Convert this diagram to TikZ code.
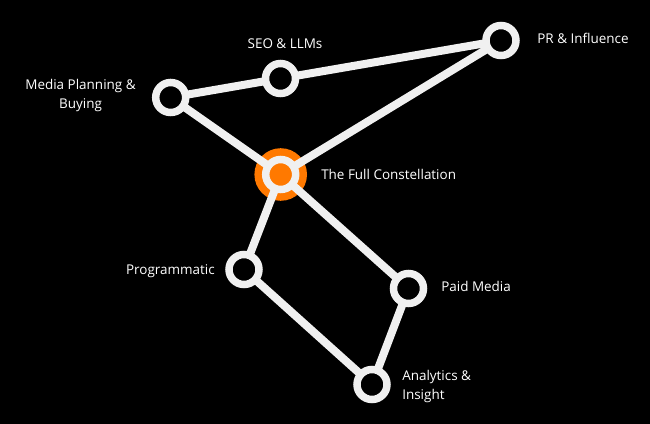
\documentclass[tikz,border=0pt]{standalone}
\usepackage{fontspec}
\setmainfont{Open Sans}
\definecolor{ringc}{HTML}{F0F0F0}
\definecolor{orangec}{HTML}{FF7900}
\tikzset{
  star/.style={circle,draw=ringc,fill=black,line width=7.5*0.75pt,minimum size=30*0.75pt,inner sep=0pt,outer sep=0pt},
  hub/.style={star,fill=orangec,line width=7.5*0.75pt,minimum size=30*0.75pt},
  link/.style={draw=ringc,line width=8*0.75pt},
  lab/.style={text=white,font=\fontsize{10.1pt}{13.9pt}\selectfont,align=center,inner sep=0pt},
}
\begin{document}
\begin{tikzpicture}[x=0.75pt,y=-0.75pt]
\path[use as bounding box,fill=black] (0,0) rectangle (650,424);
\fill[orangec] (280.7,174.5) circle (26.3*0.75pt);
\node[hub] (full) at (280.7,174.5) {};
\node[star] (pr) at (501,40.5) {};
\node[star] (seo) at (280.5,78.5) {};
\node[star] (media) at (170.7,97.5) {};
\node[star] (prog) at (244,269.5) {};
\node[star] (paid) at (408.5,288.5) {};
\node[star] (ana) at (372,384.5) {};
\path[link] (media) -- (seo);
\path[link] (seo) -- (pr);
\path[link] (media) -- (full);
\path[link] (pr) -- (full);
\path[link] (full) -- (prog);
\path[link] (full) -- (paid);
\path[link] (prog) -- (ana);
\path[link] (paid) -- (ana);
\node[lab] (tseo) at (285,43.5) {SEO \& LLMs};
\node[lab] (tpr) at (583,38.5) {PR \& Influence};
\node[lab] (tmedia) at (80.5,95.5) {Media Planning \&\\Buying};
\node[lab,anchor=west] (tfull) at (321,174.5) {The Full Constellation};
\node[lab,anchor=east] (tprog) at (215,271.5) {Programmatic};
\node[lab,anchor=west] (tpaid) at (441,286.5) {Paid Media};
\node[lab,anchor=west,align=left] (tana) at (402,386.5) {Analytics \&\\Insight};
\end{tikzpicture}
\end{document}
